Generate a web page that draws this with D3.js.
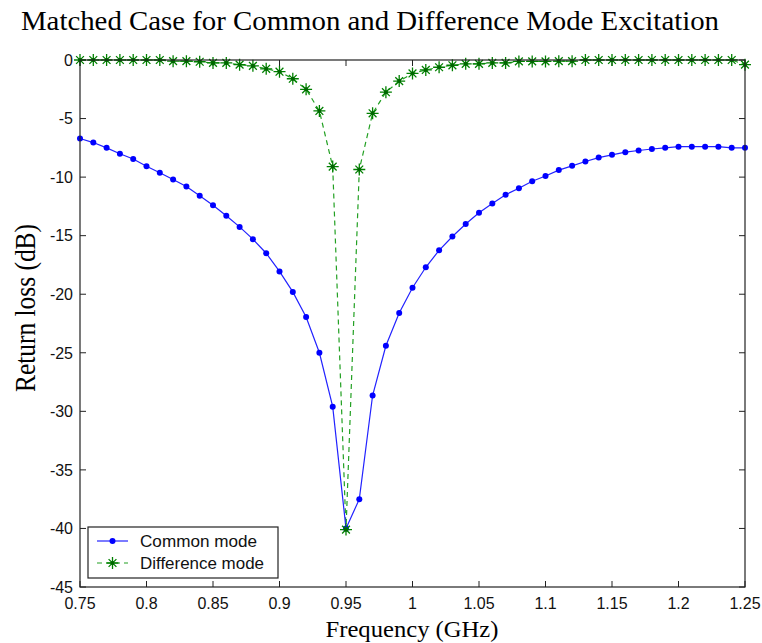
<!DOCTYPE html>
<html>
<head>
<meta charset="utf-8">
<script src="https://cdn.jsdelivr.net/npm/d3@7"></script>
<style>
  body { margin: 0; background: white; }
  text { fill: black; }
</style>
</head>
<body>
<script>
var freq = [0.75, 0.76, 0.77, 0.78, 0.79, 0.80, 0.81, 0.82, 0.83, 0.84,
            0.85, 0.86, 0.87, 0.88, 0.89, 0.90, 0.91, 0.92, 0.93, 0.94,
            0.95, 0.96, 0.97, 0.98, 0.99, 1.00, 1.01, 1.02, 1.03, 1.04,
            1.05, 1.06, 1.07, 1.08, 1.09, 1.10, 1.11, 1.12, 1.13, 1.14,
            1.15, 1.16, 1.17, 1.18, 1.19, 1.20, 1.21, 1.22, 1.23, 1.24, 1.25]

var commonMode = [-6.7, -7.05, -7.5, -8.0, -8.45, -9.07, -9.63, -10.2, -10.8, -11.6,
                  -12.4, -13.3, -14.25, -15.3, -16.5, -18.05, -19.8, -21.95, -25.0, -29.6,
                  -40.0, -37.5, -28.65, -24.4, -21.6, -19.45, -17.7, -16.25, -15.07, -14.0,
                  -13.05, -12.25, -11.5, -10.95, -10.35, -9.9, -9.4, -9.04, -8.67, -8.33,
                  -8.1, -7.87, -7.73, -7.6, -7.5, -7.4, -7.4, -7.4, -7.4, -7.5, -7.5]

var diffMode = [0, 0, 0, 0, 0, 0, 0, -0.1, -0.1, -0.15,
                -0.25, -0.25, -0.4, -0.5, -0.75, -1.0, -1.6, -2.5, -4.35, -9.1,
                -40.1, -9.35, -4.55, -2.75, -1.8, -1.15, -0.85, -0.62, -0.45, -0.33,
                -0.33, -0.25, -0.25, -0.12, -0.12, -0.12, -0.1, -0.1, 0, 0,
                0, 0, 0, 0, 0, 0, 0, 0, 0, 0, -0.4]

var xTicks = [0.75, 0.8, 0.85, 0.9, 0.95, 1, 1.05, 1.1, 1.15, 1.2, 1.25]
var yTicks = [0, -5, -10, -15, -20, -25, -30, -35, -40, -45]
var seriesNames = ["Common mode", "Difference mode"]

var margin = {top: 60, right: 17, bottom: 56, left: 80}
var width = 762 - margin.left - margin.right,
    height = 643 - margin.top - margin.bottom

var svg = d3.select("body")
  .append("svg")
  .attr("width", 762)
  .attr("height", 643)
  .style("background-color", "white")

var g = svg.append("g")
  .attr("transform", "translate(" + margin.left + "," + margin.top + ")")

var x = d3.scaleLinear().domain([0.75, 1.25]).range([0, width])
var y = d3.scaleLinear().domain([-45, 0]).range([height, 0])

var tickFont = "Liberation Sans, Arial, sans-serif"

// ticks inward on all four sides, matlab style
var tlen = 6
g.selectAll("line.xt")
  .data(xTicks)
  .enter()
  .append("line")
  .attr("x1", d => x(d)).attr("x2", d => x(d))
  .attr("y1", height).attr("y2", height - tlen)
  .attr("stroke", "#222")
g.selectAll("line.xtt")
  .data(xTicks)
  .enter()
  .append("line")
  .attr("x1", d => x(d)).attr("x2", d => x(d))
  .attr("y1", 0).attr("y2", tlen)
  .attr("stroke", "#222")
g.selectAll("line.yt")
  .data(yTicks)
  .enter()
  .append("line")
  .attr("x1", 0).attr("x2", tlen)
  .attr("y1", d => y(d)).attr("y2", d => y(d))
  .attr("stroke", "#222")
g.selectAll("line.ytr")
  .data(yTicks)
  .enter()
  .append("line")
  .attr("x1", width - tlen).attr("x2", width)
  .attr("y1", d => y(d)).attr("y2", d => y(d))
  .attr("stroke", "#222")

g.selectAll("text.xl")
  .data(xTicks)
  .enter()
  .append("text")
  .attr("x", d => x(d))
  .attr("y", height + 22)
  .attr("text-anchor", "middle")
  .style("font-family", tickFont)
  .style("font-size", "16px")
  .style("fill", "#111")
  .text(d => d3.format("")(d))

g.selectAll("text.yl")
  .data(yTicks)
  .enter()
  .append("text")
  .attr("x", -7)
  .attr("y", d => y(d))
  .attr("dy", "0.36em")
  .attr("text-anchor", "end")
  .style("font-family", tickFont)
  .style("font-size", "16px")
  .style("fill", "#111")
  .text(d => d === 0 ? "0" : "-" + Math.abs(d))

var rows = freq.map((f, i) => ({f: f, c: commonMode[i], d: diffMode[i]}))

var lineC = d3.line().x(d => x(d.f)).y(d => y(d.c))
var lineD = d3.line().x(d => x(d.f)).y(d => y(d.d))

g.append("path")
  .datum(rows)
  .attr("d", lineD)
  .attr("fill", "none")
  .attr("stroke", "#22a022")
  .attr("stroke-width", 1.2)
  .attr("stroke-dasharray", "5,4")

g.append("path")
  .datum(rows)
  .attr("d", lineC)
  .attr("fill", "none")
  .attr("stroke", "#2222ff")
  .attr("stroke-width", 1.2)

g.selectAll("circle.cm")
  .data(rows)
  .enter()
  .append("circle")
  .attr("cx", d => x(d.f))
  .attr("cy", d => y(d.c))
  .attr("r", 3)
  .attr("fill", "#0000ff")

function star(sel, s) {
  var k = s * 0.65
  sel.append("path")
    .attr("d", "M" + (-s) + ",0H" + s + "M0," + (-s) + "V" + s +
               "M" + (-k) + "," + (-k) + "L" + k + "," + k +
               "M" + (-k) + "," + k + "L" + k + "," + (-k))
    .attr("stroke", "#008000")
    .attr("stroke-width", 1.3)
    .attr("fill", "none")
  sel.append("circle").attr("r", 2).attr("fill", "#006600")
}

g.selectAll("g.dm")
  .data(rows)
  .enter()
  .append("g")
  .attr("transform", d => "translate(" + x(d.f) + "," + y(d.d) + ")")
  .call(star, 6)

// frame
g.append("rect")
  .attr("x", 0).attr("y", 0)
  .attr("width", width).attr("height", height)
  .attr("fill", "none")
  .attr("stroke", "#222")
  .attr("stroke-width", 1.2)

// legend
var leg = svg.append("g").attr("transform", "translate(88,527)")
leg.append("rect")
  .attr("width", 190).attr("height", 51)
  .attr("fill", "white")
  .attr("stroke", "#222")
  .attr("stroke-width", 1.2)
var e1 = leg.append("g").attr("transform", "translate(0,14)")
e1.append("line").attr("x1", 9).attr("x2", 40).attr("stroke", "#2222ff").attr("stroke-width", 1.2)
e1.append("circle").attr("cx", 24.5).attr("r", 3).attr("fill", "#0000ff")
e1.append("text").attr("x", 52).attr("dy", "0.36em")
  .style("font-family", tickFont).style("font-size", "17px").style("fill", "#111")
  .attr("textLength", 117).attr("lengthAdjust", "spacingAndGlyphs")
  .text(seriesNames[0])
var e2 = leg.append("g").attr("transform", "translate(0,36)")
e2.append("line").attr("x1", 9).attr("x2", 40).attr("stroke", "#22a022")
  .attr("stroke-width", 1.2).attr("stroke-dasharray", "5,4")
e2.append("g").attr("transform", "translate(24.5,0)").call(star, 6)
e2.append("text").attr("x", 52).attr("dy", "0.36em")
  .style("font-family", tickFont).style("font-size", "17px").style("fill", "#111")
  .attr("textLength", 124).attr("lengthAdjust", "spacingAndGlyphs")
  .text(seriesNames[1])

// titles
var serif = "Liberation Serif, Times New Roman, serif"
svg.append("text")
  .attr("x", 21).attr("y", 30)
  .style("font-family", serif).style("font-size", "28px")
  .attr("textLength", 698).attr("lengthAdjust", "spacingAndGlyphs")
  .text("Matched Case for Common and Difference Mode Excitation")

svg.append("text")
  .attr("x", 412).attr("y", 637)
  .attr("text-anchor", "middle")
  .style("font-family", serif).style("font-size", "23px")
  .attr("textLength", 173).attr("lengthAdjust", "spacingAndGlyphs")
  .text("Frequency (GHz)")

svg.append("text")
  .attr("transform", "translate(35,308) rotate(-90)")
  .attr("text-anchor", "middle")
  .style("font-family", serif).style("font-size", "29px")
  .attr("textLength", 168).attr("lengthAdjust", "spacingAndGlyphs")
  .text("Return loss (dB)")
</script>
</body>
</html>
